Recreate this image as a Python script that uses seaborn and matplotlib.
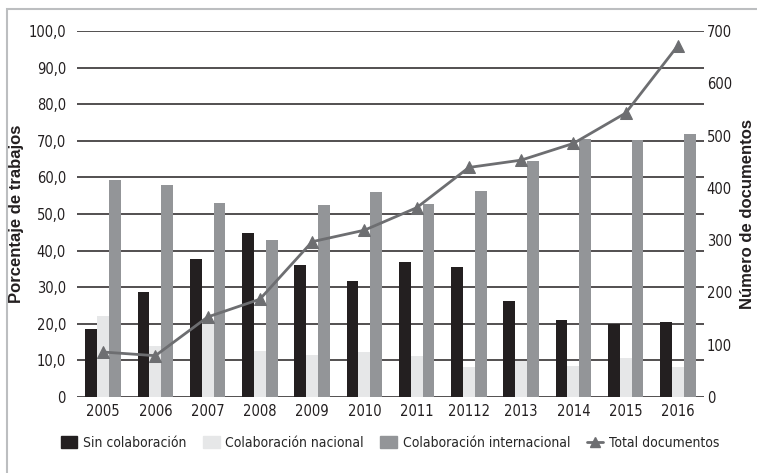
import matplotlib
matplotlib.use("Agg")
import matplotlib.pyplot as plt
import matplotlib.patches as mpatches
from matplotlib.lines import Line2D
import seaborn as sns
import pandas as pd

# data
years = ["2005", "2006", "2007", "2008", "2009", "2010",
         "2011", "20112", "2013", "2014", "2015", "2016"]
sin_colab = [18.6, 28.6, 37.8, 44.7, 36.2, 31.8, 36.8, 35.4, 26.3, 21.1, 20.0, 20.5]
colab_nacional = [22.2, 13.8, 20.5, 12.7, 11.5, 12.4, 11.2, 8.3, 9.9, 8.5, 10.6, 8.1]
colab_internacional = [59.3, 58.0, 52.9, 42.8, 52.5, 56.1, 52.6, 56.4, 64.4, 70.6, 70.2, 71.8]
total_docs = [86, 79, 153, 187, 297, 319, 362, 439, 453, 485, 543, 672]

series = ["Sin colaboración", "Colaboración nacional", "Colaboración internacional"]
colors = ["#231f20", "#e6e7e8", "#939598"]
line_color = "#6d6e71"

rows = []
for name, vals in zip(series, [sin_colab, colab_nacional, colab_internacional]):
    for y, v in zip(years, vals):
        rows.append({"Año": y, "Serie": name, "Porcentaje": v})
df = pd.DataFrame(rows)
df_tot = pd.DataFrame({"Año": years, "Total": total_docs})

sns.set_style("white")
plt.rcParams["font.family"] = ["DejaVu Sans"]
plt.rcParams["font.stretch"] = "condensed"

fig = plt.figure(figsize=(7.57, 4.73), dpi=100)
ax = fig.add_axes([77 / 757, 1 - 397 / 473, 627 / 757, 366 / 473])

sns.barplot(data=df, x="Año", y="Porcentaje", hue="Serie", hue_order=series,
            palette=colors, width=0.68, gap=0, saturation=1, ax=ax,
            legend=False, edgecolor="none", linewidth=0)
ax.set_ylim(0, 100)
ax.set_xlim(-0.5, len(years) - 0.5)
ax.set_yticks(range(0, 101, 10))
ax.set_yticklabels(["0"] + [f"{v},0" for v in range(10, 101, 10)])
ax.yaxis.grid(True, color="#231f20", linewidth=1.1)
ax.set_axisbelow(True)
for s in ax.spines.values():
    s.set_visible(False)
ax.tick_params(axis="both", length=0, labelsize=10.5, colors="#231f20")
ax.tick_params(axis="y", pad=8)
ax.tick_params(axis="x", pad=5)
ax.set_xlabel("")
ax.set_ylabel("Porcentaje de trabajos", fontsize=12, fontweight="bold",
              family=["Liberation Sans", "DejaVu Sans"], stretch="normal",
              color="#231f20")
ax.yaxis.set_label_coords(-0.085, 0.5)

ax2 = ax.twinx()
sns.lineplot(data=df_tot, x="Año", y="Total", color=line_color, linewidth=2,
             marker="^", markersize=9, markeredgecolor=line_color, ax=ax2)
ax2.set_ylim(0, 700)
ax2.set_yticks(range(0, 701, 100))
for s in ax2.spines.values():
    s.set_visible(False)
ax2.tick_params(axis="y", length=0, labelsize=10.5, pad=2, colors="#231f20")
ax2.set_ylabel("Número de documentos", fontsize=12, fontweight="bold",
               family=["Liberation Sans", "DejaVu Sans"], stretch="normal",
               color="#231f20")
ax2.yaxis.set_label_coords(1.058, 0.5)
ax2.set_xlim(-0.5, len(years) - 0.5)

handles = [mpatches.Patch(color=c, label=n) for c, n in zip(colors, series)]
handles.append(Line2D([0], [0], color=line_color, lw=2, marker="^", markersize=7,
                      label="Total documentos"))
fig.legend(handles=handles, loc="center", ncol=4, frameon=False,
           bbox_to_anchor=(390 / 757, 1 - 443 / 473), fontsize=10,
           handlelength=1.2, handleheight=0.9, handletextpad=0.4, columnspacing=1.2)

# light frame around the chart
frame = mpatches.Rectangle((7 / 757, -0.05), 1.1, 1 - 9 / 473 + 0.05,
                           transform=fig.transFigure, fill=False,
                           edgecolor="#bcbec0", linewidth=1.5)
fig.patches.append(frame)

fig.savefig("out.png", dpi=100)
